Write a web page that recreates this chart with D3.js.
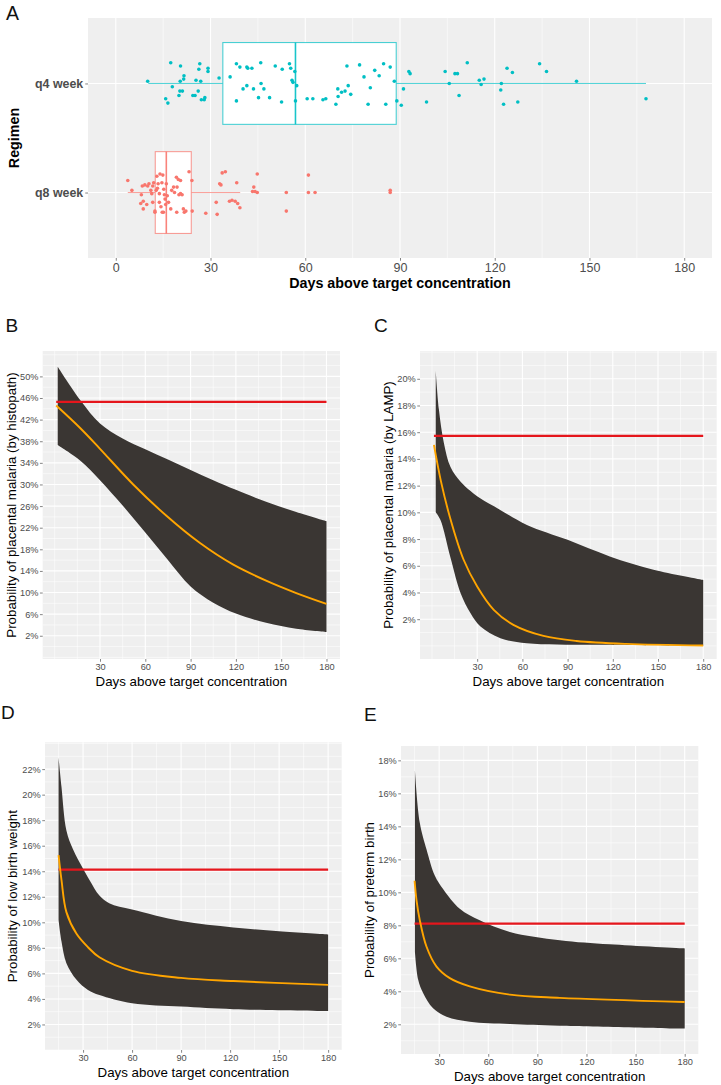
<!DOCTYPE html>
<html><head><meta charset="utf-8">
<script src="https://cdn.jsdelivr.net/npm/d3@7"></script>
<style>
html,body{margin:0;padding:0;background:#fff;}
svg{display:block;font-family:"Liberation Sans",Arial,Helvetica,sans-serif;}
</style></head>
<body>
<svg id="chart" width="721" height="1085"></svg>
<script>
// ---------------- DATA ----------------
// Panel A
const regimens = ["q4 week", "q8 week"];
const dayTicksA = [0, 30, 60, 90, 120, 150, 180];
const q4Box = [10.3, 33.9, 56.9, 88.8, 167.9];   // whisker low, Q1, median, Q3, whisker high
const q8Box = [3.8, 12.5, 16.0, 23.9, 39.4];
const q4Days = [10.1,15.8,16.5,17.4,17.9,20.0,20.3,20.5,20.4,21.1,
  21.5,21.6,24.4,25.1,25.4,26.1,26.3,26.6,26.9,27.1,
  28.0,28.2,29.2,29.2,32.7,36.2,38.2,38.2,39.3,40.3,
  41.5,41.5,41.8,43.1,43.6,45.2,45.9,46.0,46.9,48.7,
  50.5,52.5,52.7,55.0,55.4,55.8,56.1,56.7,56.9,57.3,
  60.6,62.4,65.6,66.5,69.7,70.3,70.4,71.5,72.6,73.2,
  73.6,74.4,77.2,78.6,79.9,80.6,82.0,83.4,84.8,85.5,
  86.9,88.2,89.0,90.4,91.1,92.8,93.2,98.4,104.3,105.6,
  107.4,108.2,108.7,111.3,115.1,115.7,116.6,121.9,122.1,122.8,
  123.9,125.6,127.3,134.2,136.4,145.9,167.9];
const q4Jitter = [-0.02,0.14,0.18,-0.19,0.03,0.11,0.07,-0.16,-0.02,0.07,
  -0.04,-0.07,0.11,0.11,-0.03,0.07,-0.13,-0.18,-0.02,0.15,
  0.15,0.13,-0.14,-0.11,-0.05,-0.06,0.16,-0.18,-0.15,0.05,
  0.02,-0.15,-0.14,-0.14,0.05,0.13,-0.19,0.00,0.05,0.13,
  -0.16,0.17,-0.13,-0.18,-0.14,-0.03,-0.01,-0.11,0.16,0.02,
  0.14,0.14,0.15,0.14,0.19,0.05,0.12,0.08,0.07,-0.16,
  0.02,0.10,-0.17,-0.06,0.19,0.04,-0.12,-0.07,-0.18,0.19,
  -0.15,-0.02,0.16,0.20,0.05,-0.11,-0.09,0.17,-0.11,0.00,
  -0.09,-0.09,0.11,-0.19,-0.03,0.01,-0.04,0.06,0.00,0.19,
  -0.14,-0.10,0.17,-0.18,-0.11,-0.02,0.14];
const q8Days = [3.8,5.1,8.1,8.4,8.7,9.2,9.8,7.9,8.7,10.1,
  10.5,11.1,11.4,11.7,12.0,11.7,12.4,12.4,12.8,13.0,
  13.2,13.4,13.8,13.8,14.0,14.3,14.6,14.7,14.9,15.1,
  15.2,15.4,15.6,15.8,16.0,16.3,16.7,17.4,17.7,18.3,
  18.6,19.2,19.3,19.4,19.8,20.0,20.5,20.5,21.0,21.4,
  21.7,22.2,23.2,24.1,24.2,28.5,31.8,32.1,32.9,33.3,
  33.7,34.7,36.0,36.8,37.8,38.3,38.6,39.3,43.3,43.7,
  44.1,44.8,44.8,54.0,54.0,61.0,61.0,63.1,86.9,86.9];
const q8Jitter = [-0.11,-0.02,0.02,-0.06,0.15,-0.07,0.11,0.10,0.08,-0.06,
  -0.08,-0.02,0.01,-0.06,-0.09,0.09,0.18,0.17,-0.02,-0.15,
  -0.04,-0.08,0.01,0.09,-0.17,0.13,-0.09,0.18,-0.16,0.18,
  -0.03,0.02,0.06,0.11,-0.08,0.03,0.09,0.15,-0.02,-0.05,
  0.00,-0.14,0.18,-0.05,-0.12,0.02,-0.11,0.01,0.02,0.15,
  0.18,0.17,-0.19,-0.11,0.17,0.19,0.09,0.20,-0.08,-0.07,
  -0.18,-0.19,0.08,0.07,0.08,-0.09,0.10,0.14,-0.01,-0.05,
  -0.01,0.00,-0.17,0.00,0.17,-0.16,0.00,0.00,-0.02,0.00];

// Panels B-E shared x ticks
const dayTicks = [30, 60, 90, 120, 150, 180];

// Panel B: placental malaria (histopath)
const bYTicks = [2,6,10,14,18,22,26,30,34,38,42,46,50];
const bUpperDays = [2, 17, 30, 45, 60, 75, 90, 105, 120, 140, 160, 180];
const bUpper     = [51.8, 45.6, 41.3, 38.5, 36.5, 34.6, 32.7, 30.8, 29.0, 26.8, 24.9, 23.2];
const bLowerDays = [2, 17, 30, 45, 60, 75, 90, 105, 120, 140, 160, 180];
const bLower     = [37.3, 34.4, 30.8, 26.1, 21.1, 16.0, 11.1, 8.1, 6.1, 4.4, 3.3, 2.7];
const bFitDays   = [1, 17, 30, 52, 74, 96, 118, 140, 160, 180];
const bFit       = [44.6, 40.4, 36.6, 30.0, 24.2, 19.2, 15.2, 12.2, 9.9, 7.9];
const bThreshold = 45.3;
const bThresholdDays = [1, 180];

// Panel C: placental malaria (LAMP)
const cYTicks = [2,4,6,8,10,12,14,16,18,20];
const cUpperDays = [2.5, 4.6, 7.9, 12.3, 19, 25.6, 32, 45, 63, 90, 118, 147, 180];
const cUpper     = [20.6, 17.7, 15.2, 13.4, 12.3, 11.6, 11.05, 10.2, 9.06, 7.94, 6.7, 5.7, 4.94];
const cLowerDays = [2.5, 5.7, 12.3, 19, 25.6, 32.2, 45.4, 63, 107, 180];
const cLower     = [10.0, 9.4, 6.6, 3.95, 2.45, 1.45, 0.58, 0.2, 0.08, 0.02];
const cFitDays   = [1.3, 6, 12, 21, 30, 41, 54, 74, 96, 129, 180];
const cFit       = [15.05, 12.3, 9.6, 6.45, 4.45, 2.7, 1.58, 0.75, 0.37, 0.15, 0.03];
const cThreshold = 15.72;
const cThresholdDays = [1.3, 180];

// Panel D: low birth weight
const dYTicks = [2,4,6,8,10,12,14,16,18,20,22];
const dUpperDays = [15, 16.8, 19.8, 23.9, 30, 34, 40, 46, 60, 90, 122, 150, 180];
const dUpper     = [22.9, 20.6, 17.2, 15.7, 14.2, 13.3, 12.1, 11.5, 11.0, 10.1, 9.6, 9.3, 9.05];
const dLowerDays = [15, 16.8, 19.8, 26, 33, 40, 60, 90, 122, 180];
const dLower     = [10.2, 8.5, 6.8, 5.5, 4.7, 4.3, 3.66, 3.4, 3.2, 3.05];
const dFitDays   = [15, 16.8, 19.8, 26, 33, 40, 60, 90, 122, 180];
const dFit       = [15.26, 13.3, 10.8, 9.1, 8.05, 7.26, 6.2, 5.65, 5.4, 5.1];
const dThreshold = 14.13;
const dThresholdDays = [15, 180];

// Panel E: preterm birth
const eYTicks = [2,4,6,8,10,12,14,16,18];
const eUpperDays = [15.2, 18.2, 22.3, 27.4, 32.4, 42.6, 54.8, 73.2, 103.7, 134.2, 180];
const eUpper     = [17.4, 14.2, 12.6, 11.0, 10.2, 9.0, 8.3, 7.6, 7.1, 6.85, 6.6];
const eLowerDays = [15.2, 17.2, 20.2, 26.3, 34.5, 48.7, 73.2, 103.7, 180];
const eLower     = [6.4, 4.7, 3.9, 2.97, 2.46, 2.16, 2.02, 1.92, 1.74];
const eFitDays   = [15, 16.2, 18.2, 22.3, 28.4, 36.5, 48.7, 73.2, 103.7, 180];
const eFit       = [10.7, 9.5, 8.3, 6.7, 5.5, 4.8, 4.3, 3.8, 3.6, 3.35];
const eThreshold = 8.1;
const eThresholdDays = [15, 180];

// ---------------- DRAWING ----------------
const svg = d3.select("#chart");
svg.append("rect").attr("width", 721).attr("height", 1085).attr("fill", "#fff");

const BG = "#EFEFEF", TICKTXT = "#4D4D4D", TICKLINE = "#333333";
const RIBBON = "#3A3633", ORANGE = "#FFA500", RED = "#E5161C";

function minorBreaks(majors, domain) {
  const step = majors[1] - majors[0];
  const out = [];
  for (let v = majors[0] - step; v <= majors[majors.length - 1] + step + 1e-9; v += step / 2) {
    const r = Math.round(v * 1000) / 1000;
    if (r >= domain[0] && r <= domain[1] && !majors.includes(r)) out.push(r);
  }
  return out;
}

function styleAxis(g, size, color, weight) {
  g.select(".domain").remove();
  g.selectAll(".tick line").attr("stroke", TICKLINE).attr("stroke-width", 0.6);
  g.selectAll(".tick text").attr("font-size", size).attr("fill", color)
    .attr("font-weight", weight || "normal")
    .attr("font-family", '"Liberation Sans",Arial,sans-serif');
}

// ---- Panel A ----
(function () {
  const L = 88, R = 712, T = 18, B = 258;
  const x = d3.scaleLinear().domain([-8.8, 188.8]).range([L, R]);
  const y = d3.scalePoint().domain(regimens).range([T, B]).padding(0.6);
  const step = y.step();
  const g = svg.append("g");
  g.append("rect").attr("x", L).attr("y", T).attr("width", R - L).attr("height", B - T).attr("fill", BG);
  minorBreaks(dayTicksA, x.domain()).forEach(v => {
    g.append("line").attr("x1", x(v)).attr("x2", x(v)).attr("y1", T).attr("y2", B)
      .attr("stroke", "#fff").attr("stroke-width", 0.55);
  });
  dayTicksA.forEach(v => {
    g.append("line").attr("x1", x(v)).attr("x2", x(v)).attr("y1", T).attr("y2", B)
      .attr("stroke", "#fff").attr("stroke-width", 1.1);
  });
  regimens.forEach(r => {
    g.append("line").attr("x1", L).attr("x2", R).attr("y1", y(r)).attr("y2", y(r))
      .attr("stroke", "#fff").attr("stroke-width", 1.1);
  });

  const groups = [
    { r: "q4 week", box: q4Box, days: q4Days, jit: q4Jitter, col: "#00BFC4" },
    { r: "q8 week", box: q8Box, days: q8Days, jit: q8Jitter, col: "#F8766D" }
  ];
  const hw = 0.375 * step;
  groups.forEach(gr => {
    const cy = y(gr.r);
    const bx = gr.box;
    const bg = g.append("g").attr("stroke", gr.col).attr("stroke-opacity", 0.7);
    bg.append("line").attr("x1", x(bx[0])).attr("x2", x(bx[1])).attr("y1", cy).attr("y2", cy).attr("stroke-width", 1);
    bg.append("line").attr("x1", x(bx[3])).attr("x2", x(bx[4])).attr("y1", cy).attr("y2", cy).attr("stroke-width", 1);
    bg.append("rect").attr("x", x(bx[1])).attr("y", cy - hw).attr("width", x(bx[3]) - x(bx[1]))
      .attr("height", 2 * hw).attr("fill", "#fff").attr("stroke-width", 1.1);
    bg.append("line").attr("x1", x(bx[2])).attr("x2", x(bx[2])).attr("y1", cy - hw).attr("y2", cy + hw)
      .attr("stroke-width", 1.6).attr("stroke-opacity", 0.9);
    g.append("g").selectAll("circle").data(gr.days).join("circle")
      .attr("cx", d => x(d)).attr("cy", (d, i) => cy + gr.jit[i] * step)
      .attr("r", 1.8).attr("fill", gr.col);
  });

  const ax = g.append("g").attr("transform", `translate(0,${B})`)
    .call(d3.axisBottom(x).tickValues(dayTicksA).tickSize(2.75).tickPadding(2.6));
  styleAxis(ax, 12.5, TICKTXT, "normal");
  const ay = g.append("g").attr("transform", `translate(${L},0)`)
    .call(d3.axisLeft(y).tickSize(2.75).tickPadding(2));
  styleAxis(ay, 12.4, TICKTXT, "bold");

  g.append("text").attr("x", (L + R) / 2).attr("y", 283).attr("dy", "0.35em")
    .attr("text-anchor", "middle").attr("font-size", 14.3).attr("font-weight", "bold")
    .attr("fill", "#000").text("Days above target concentration");
  g.append("text").attr("transform", `translate(14,${(T + B) / 2}) rotate(-90)`).attr("dy", "0.35em")
    .attr("text-anchor", "middle").attr("font-size", 14.3).attr("font-weight", "bold")
    .attr("fill", "#000").text("Regimen");
  g.append("text").attr("x", 6).attr("y", 19.5).attr("font-size", 19.5).attr("fill", "#111").text("A");
})();

// ---- Panels B-E ----
function curvePanel(p) {
  const x = d3.scaleLinear().domain(p.xDomain).range([p.L, p.R]);
  const y = d3.scaleLinear().domain(p.yDomain).range([p.B, p.T]);
  const g = svg.append("g");
  g.append("rect").attr("x", p.L).attr("y", p.T).attr("width", p.R - p.L).attr("height", p.B - p.T).attr("fill", BG);
  minorBreaks(dayTicks, p.xDomain).forEach(v => {
    g.append("line").attr("x1", x(v)).attr("x2", x(v)).attr("y1", p.T).attr("y2", p.B)
      .attr("stroke", "#fff").attr("stroke-width", 0.55);
  });
  minorBreaks(p.yTicks, p.yDomain).forEach(v => {
    g.append("line").attr("x1", p.L).attr("x2", p.R).attr("y1", y(v)).attr("y2", y(v))
      .attr("stroke", "#fff").attr("stroke-width", 0.55);
  });
  dayTicks.forEach(v => {
    g.append("line").attr("x1", x(v)).attr("x2", x(v)).attr("y1", p.T).attr("y2", p.B)
      .attr("stroke", "#fff").attr("stroke-width", 1.1);
  });
  p.yTicks.forEach(v => {
    g.append("line").attr("x1", p.L).attr("x2", p.R).attr("y1", y(v)).attr("y2", y(v))
      .attr("stroke", "#fff").attr("stroke-width", 1.1);
  });
  const clipId = "clip" + p.id;
  svg.append("clipPath").attr("id", clipId).append("rect")
    .attr("x", p.L).attr("y", p.T).attr("width", p.R - p.L).attr("height", p.B - p.T);
  const c = g.append("g").attr("clip-path", `url(#${clipId})`);

  const line = d3.line().x(d => x(d[0])).y(d => y(d[1])).curve(d3.curveCatmullRom.alpha(0.5));
  const up = p.upperDays.map((d, i) => [d, p.upper[i]]);
  const lo = p.lowerDays.map((d, i) => [d, p.lower[i]]).reverse();
  const ribbonPath = line(up) + "L" + line(lo).slice(1) + "Z";
  c.append("path").attr("d", ribbonPath).attr("fill", RIBBON);
  c.append("path").attr("d", line(p.thrDays.map(d => [d, p.thr])))
    .attr("fill", "none").attr("stroke", RED).attr("stroke-width", 2.2);
  c.append("path").attr("d", line(p.fitDays.map((d, i) => [d, p.fit[i]])))
    .attr("fill", "none").attr("stroke", ORANGE).attr("stroke-width", 1.9);

  const ax = g.append("g").attr("transform", `translate(0,${p.B})`)
    .call(d3.axisBottom(x).tickValues(dayTicks).tickSize(2.75).tickPadding(2));
  styleAxis(ax, 9.2, TICKTXT);
  const ay = g.append("g").attr("transform", `translate(${p.L},0)`)
    .call(d3.axisLeft(y).tickValues(p.yTicks).tickFormat(d => d + "%").tickSize(2.75).tickPadding(1.5));
  styleAxis(ay, 9.2, TICKTXT);

  g.append("text").attr("x", (p.L + p.R) / 2).attr("y", p.xTitleY).attr("dy", "0.35em")
    .attr("text-anchor", "middle").attr("font-size", 13.3).attr("fill", "#000").text("Days above target concentration");
  g.append("text").attr("transform", `translate(${p.yTitleX},${(p.T + p.B) / 2}) rotate(-90)`).attr("dy", "0.35em")
    .attr("text-anchor", "middle").attr("font-size", 13.3).attr("fill", "#000").text(p.yTitle);
  g.append("text").attr("x", p.labX).attr("y", p.labY).attr("font-size", 19).attr("fill", "#111").text(p.id);
}

curvePanel({ id: "B", L: 42.7, R: 340, T: 351, B: 659, xDomain: [-7.95, 188.95], yDomain: [-2.3, 54.7],
  yTicks: bYTicks, upperDays: bUpperDays, upper: bUpper, lowerDays: bLowerDays, lower: bLower,
  fitDays: bFitDays, fit: bFit, thr: bThreshold, thrDays: bThresholdDays,
  xTitleY: 681.7, yTitleX: 11, yTitle: "Probability of placental malaria (by histopath)", labX: 5.5, labY: 332 });
curvePanel({ id: "C", L: 420, R: 716.7, T: 351, B: 659, xDomain: [-7.95, 188.95], yDomain: [-0.98, 22.08],
  yTicks: cYTicks, upperDays: cUpperDays, upper: cUpper, lowerDays: cLowerDays, lower: cLower,
  fitDays: cFitDays, fit: cFit, thr: cThreshold, thrDays: cThresholdDays,
  xTitleY: 681.7, yTitleX: 388, yTitle: "Probability of placental malaria (by LAMP)", labX: 374, labY: 332 });
curvePanel({ id: "D", L: 45, R: 341.7, T: 742.3, B: 1050, xDomain: [6.7, 188.3], yDomain: [0, 24.1],
  yTicks: dYTicks, upperDays: dUpperDays, upper: dUpper, lowerDays: dLowerDays, lower: dLower,
  fitDays: dFitDays, fit: dFit, thr: dThreshold, thrDays: dThresholdDays,
  xTitleY: 1072.7, yTitleX: 12.5, yTitle: "Probability of low birth weight", labX: 1, labY: 719 });
curvePanel({ id: "E", L: 401, R: 698.3, T: 746, B: 1054, xDomain: [6.7, 188.3], yDomain: [0.2, 18.87],
  yTicks: eYTicks, upperDays: eUpperDays, upper: eUpper, lowerDays: eLowerDays, lower: eLower,
  fitDays: eFitDays, fit: eFit, thr: eThreshold, thrDays: eThresholdDays,
  xTitleY: 1076, yTitleX: 369, yTitle: "Probability of preterm birth", labX: 364, labY: 721 });
</script>
</body></html>
